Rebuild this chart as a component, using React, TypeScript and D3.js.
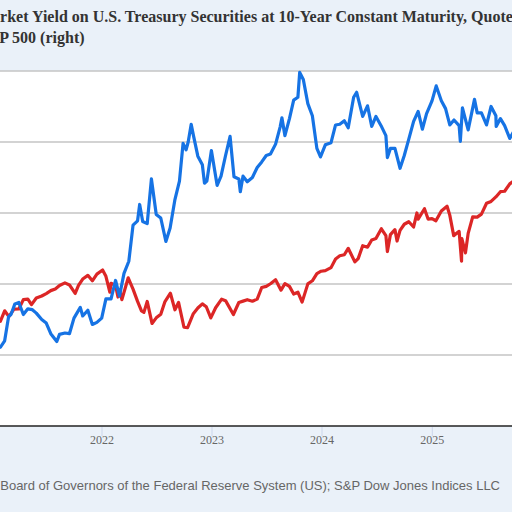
import { line, scaleLinear, scaleTime, timeParse } from "d3";

// 10-year Treasury yield, percent (left axis)
const treasuryYield: [string, number][] = [
  ["2021-01-15", 1.1], ["2021-01-29", 1.11], ["2021-02-12", 1.2], ["2021-02-25", 1.54],
  ["2021-03-05", 1.57], ["2021-03-18", 1.72], ["2021-03-31", 1.74], ["2021-04-15", 1.57],
  ["2021-04-30", 1.65], ["2021-05-14", 1.64], ["2021-05-28", 1.59], ["2021-06-15", 1.5],
  ["2021-06-30", 1.45], ["2021-07-15", 1.3], ["2021-08-04", 1.19], ["2021-08-13", 1.29],
  ["2021-08-31", 1.31], ["2021-09-15", 1.3], ["2021-09-30", 1.52], ["2021-10-21", 1.67],
  ["2021-10-29", 1.55], ["2021-11-15", 1.63], ["2021-11-30", 1.43], ["2021-12-15", 1.46],
  ["2021-12-31", 1.52], ["2022-01-14", 1.79], ["2022-01-31", 1.79], ["2022-02-15", 2.05],
  ["2022-02-28", 1.83], ["2022-03-15", 2.15], ["2022-03-31", 2.32], ["2022-04-14", 2.83],
  ["2022-04-29", 2.89], ["2022-05-06", 3.12], ["2022-05-16", 2.88], ["2022-05-31", 2.85],
  ["2022-06-14", 3.48], ["2022-06-30", 2.98], ["2022-07-15", 2.93], ["2022-08-01", 2.6],
  ["2022-08-15", 2.79], ["2022-08-31", 3.19], ["2022-09-15", 3.45], ["2022-09-27", 3.98],
  ["2022-10-07", 3.89], ["2022-10-14", 4.0], ["2022-10-24", 4.25], ["2022-10-31", 4.1],
  ["2022-11-15", 3.8], ["2022-11-30", 3.68], ["2022-12-07", 3.42], ["2022-12-15", 3.45],
  ["2022-12-30", 3.88], ["2023-01-18", 3.39], ["2023-01-31", 3.52], ["2023-02-15", 3.81],
  ["2023-03-02", 4.08], ["2023-03-15", 3.51], ["2023-03-31", 3.48], ["2023-04-05", 3.3],
  ["2023-04-14", 3.52], ["2023-04-28", 3.44], ["2023-05-15", 3.5], ["2023-05-31", 3.64],
  ["2023-06-15", 3.72], ["2023-06-30", 3.81], ["2023-07-14", 3.83], ["2023-07-31", 3.97],
  ["2023-08-15", 4.21], ["2023-08-21", 4.34], ["2023-08-31", 4.09], ["2023-09-15", 4.33],
  ["2023-09-29", 4.59], ["2023-10-13", 4.63], ["2023-10-19", 4.98], ["2023-10-31", 4.88],
  ["2023-11-15", 4.54], ["2023-11-30", 4.37], ["2023-12-15", 3.91], ["2023-12-27", 3.79],
  ["2024-01-12", 3.96], ["2024-01-31", 3.99], ["2024-02-15", 4.24], ["2024-02-29", 4.25],
  ["2024-03-15", 4.3], ["2024-03-28", 4.2], ["2024-04-15", 4.63], ["2024-04-25", 4.7],
  ["2024-05-15", 4.36], ["2024-05-31", 4.51], ["2024-06-14", 4.22], ["2024-06-28", 4.36],
  ["2024-07-15", 4.23], ["2024-07-31", 4.09], ["2024-08-05", 3.78], ["2024-08-15", 3.91],
  ["2024-08-30", 3.91], ["2024-09-16", 3.63], ["2024-09-30", 3.81], ["2024-10-15", 4.04],
  ["2024-10-31", 4.29], ["2024-11-15", 4.43], ["2024-11-29", 4.18], ["2024-12-13", 4.4],
  ["2024-12-31", 4.58], ["2025-01-14", 4.79], ["2025-01-31", 4.58], ["2025-02-14", 4.47],
  ["2025-02-28", 4.24], ["2025-03-14", 4.31], ["2025-03-31", 4.23], ["2025-04-04", 4.01],
  ["2025-04-11", 4.48], ["2025-04-30", 4.17], ["2025-05-21", 4.6], ["2025-05-30", 4.41],
  ["2025-06-13", 4.41], ["2025-06-30", 4.24], ["2025-07-15", 4.5], ["2025-07-31", 4.37],
  ["2025-08-01", 4.22], ["2025-08-15", 4.33], ["2025-08-29", 4.23], ["2025-09-15", 4.05],
  ["2025-09-30", 4.16],
];

// S&P 500 index (right axis)
const sp500: [string, number][] = [
  ["2021-01-15", 3768], ["2021-01-29", 3714], ["2021-02-12", 3934], ["2021-02-26", 3811],
  ["2021-03-15", 3969], ["2021-03-31", 3973], ["2021-04-15", 4170], ["2021-04-30", 4181],
  ["2021-05-12", 4063], ["2021-05-28", 4204], ["2021-06-15", 4247], ["2021-06-30", 4298],
  ["2021-07-15", 4360], ["2021-07-30", 4395], ["2021-08-13", 4468], ["2021-08-31", 4523],
  ["2021-09-15", 4480], ["2021-10-04", 4300], ["2021-10-15", 4471], ["2021-10-29", 4605],
  ["2021-11-15", 4683], ["2021-11-30", 4567], ["2021-12-15", 4709], ["2022-01-03", 4796],
  ["2022-01-14", 4663], ["2022-01-27", 4326], ["2022-01-31", 4516], ["2022-02-15", 4471],
  ["2022-02-23", 4225], ["2022-02-28", 4374], ["2022-03-08", 4170], ["2022-03-29", 4631],
  ["2022-04-14", 4392], ["2022-04-29", 4132], ["2022-05-12", 3930], ["2022-05-20", 3901],
  ["2022-05-31", 4132], ["2022-06-16", 3667], ["2022-06-30", 3785], ["2022-07-15", 3863],
  ["2022-07-29", 4130], ["2022-08-16", 4305], ["2022-08-31", 3955], ["2022-09-12", 4110],
  ["2022-09-30", 3586], ["2022-10-12", 3577], ["2022-10-31", 3872], ["2022-11-15", 3992],
  ["2022-11-30", 4080], ["2022-12-13", 4019], ["2022-12-28", 3783], ["2023-01-13", 3999],
  ["2023-02-02", 4179], ["2023-02-15", 4148], ["2023-03-13", 3855], ["2023-03-31", 4109],
  ["2023-04-14", 4138], ["2023-04-28", 4169], ["2023-05-15", 4136], ["2023-05-31", 4180],
  ["2023-06-15", 4426], ["2023-06-30", 4450], ["2023-07-14", 4505], ["2023-07-31", 4589],
  ["2023-08-18", 4370], ["2023-08-31", 4508], ["2023-09-15", 4450], ["2023-09-29", 4288],
  ["2023-10-13", 4327], ["2023-10-27", 4117], ["2023-11-15", 4503], ["2023-11-30", 4568],
  ["2023-12-15", 4719], ["2023-12-29", 4770], ["2024-01-12", 4784], ["2024-01-31", 4846],
  ["2024-02-15", 5030], ["2024-02-29", 5096], ["2024-03-15", 5117], ["2024-03-28", 5254],
  ["2024-04-19", 4967], ["2024-04-30", 5036], ["2024-05-15", 5308], ["2024-05-31", 5278],
  ["2024-06-14", 5431], ["2024-06-28", 5460], ["2024-07-16", 5667], ["2024-07-31", 5522],
  ["2024-08-05", 5186], ["2024-08-15", 5543], ["2024-08-30", 5648], ["2024-09-06", 5408],
  ["2024-09-16", 5633], ["2024-09-30", 5762], ["2024-10-15", 5815], ["2024-10-31", 5705],
  ["2024-11-11", 6001], ["2024-11-15", 5870], ["2024-12-06", 6090], ["2024-12-18", 5872],
  ["2024-12-31", 5882], ["2025-01-13", 5836], ["2025-01-31", 6041], ["2025-02-19", 6144],
  ["2025-02-28", 5955], ["2025-03-13", 5522], ["2025-03-31", 5612], ["2025-04-08", 4983],
  ["2025-04-09", 5457], ["2025-04-21", 5158], ["2025-04-30", 5569], ["2025-05-15", 5917],
  ["2025-05-30", 5912], ["2025-06-13", 5977], ["2025-06-30", 6205], ["2025-07-15", 6244],
  ["2025-07-31", 6339], ["2025-08-15", 6450], ["2025-08-29", 6460], ["2025-09-15", 6615],
  ["2025-09-30", 6688],
];

const yearTicks = ["2022", "2023", "2024", "2025"];
const leftTicks = [1, 2, 3, 4, 5];
const titleLines = [
  "Market Yield on U.S. Treasury Securities at 10-Year Constant Maturity, Quoted on an Investment Basis (left) and",
  "S&P 500 (right)",
];
const sourceText =
  "Sources: Board of Governors of the Federal Reserve System (US); S&P Dow Jones Indices LLC";

const parse = timeParse("%Y-%m-%d");

const App = () => {
  const width = 512;
  const height = 512;
  const plotTop = 71;
  const plotBottom = 426;

  const x = scaleTime()
    .domain([new Date(2022, 0, 1), new Date(2023, 0, 1)])
    .range([102, 212]);
  const yLeft = scaleLinear().domain([0, 5]).range([plotBottom, plotTop]);
  const yRight = scaleLinear().domain([1500, 9000]).range([plotBottom, plotTop]);

  const yieldPath = line<[string, number]>()
    .x((d) => x(parse(d[0])))
    .y((d) => yLeft(d[1]))(treasuryYield);
  const spxPath = line<[string, number]>()
    .x((d) => x(parse(d[0])))
    .y((d) => yRight(d[1]))(sp500);

  return (
    <svg
      width={width}
      height={height}
      style={{ position: "absolute", left: 0, top: 0 }}
    >
      <rect width={width} height={height} fill="#eaf1f9" />
      <rect x={0} y={plotTop} width={width} height={plotBottom - plotTop} fill="#fff" />

      {/* the chart is cropped on both sides, so the title runs past the edges */}
      <g fontFamily="Liberation Serif" fontWeight="bold" fontSize={16} fill="#333">
        {titleLines.map((t, i) => (
          <text key={i} x={-23} y={22 + i * 21}>
            {t}
          </text>
        ))}
      </g>

      {leftTicks.map((t) => (
        <line
          key={t}
          x1={0}
          x2={width}
          y1={yLeft(t)}
          y2={yLeft(t)}
          stroke="#c4c4c4"
          strokeWidth={1.5}
        />
      ))}

      <path d={spxPath} fill="none" stroke="#dc2626" strokeWidth={3.2} strokeLinejoin="round" />
      <path d={yieldPath} fill="none" stroke="#1673e4" strokeWidth={3.2} strokeLinejoin="round" />

      <line x1={0} x2={width} y1={plotBottom} y2={plotBottom} stroke="#222" strokeWidth={1.5} />
      {yearTicks.map((yr) => {
        const tx = x(parse(`${yr}-01-01`));
        return (
          <g key={yr} transform={`translate(${tx}, ${plotBottom})`}>
            <line y1={1} y2={10} stroke="#ccd6eb" />
            <text
              y={18}
              textAnchor="middle"
              fontFamily="Liberation Serif"
              fontSize={12}
              fill="#666"
            >
              {yr}
            </text>
          </g>
        );
      })}

      <text
        x={500}
        y={490}
        textAnchor="end"
        fontFamily="Liberation Sans"
        fontSize={13}
        fill="#666"
      >
        {sourceText}
      </text>
    </svg>
  );
};

export default App;
